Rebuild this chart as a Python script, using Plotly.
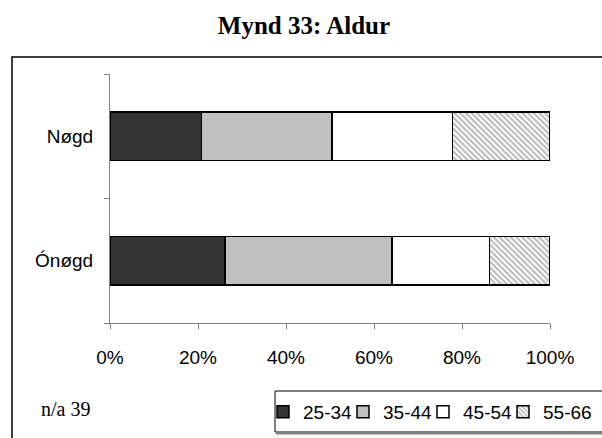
import plotly.graph_objects as go

categories = ["Ónøgd", "Nøgd"]
age_groups = ["25-34", "35-44", "45-54", "55-66"]
values_25_34 = [26.1, 20.8]
values_35_44 = [38.0, 29.6]
values_45_54 = [22.2, 27.4]
values_55_66 = [13.7, 22.2]
x_ticks = [0, 20, 40, 60, 80, 100]
x_tick_labels = ["0%", "20%", "40%", "60%", "80%", "100%"]
note_text = "n/a 39"
title_text = "Mynd 33: Aldur"

series = [values_25_34, values_35_44, values_45_54, values_55_66]
fills = ["#333333", "#C0C0C0", "#FFFFFF", "#FFFFFF"]

sans = "Liberation Sans, Arial, sans-serif"
serif = "Liberation Serif, Times New Roman, serif"

# plot area in pixels (for converting layout positions to paper coords)
L, R, T, B = 110, 52, 74, 115
W, H = 602, 438
PW, PH = W - L - R, H - T - B


def px_x(x):
    return (x - L) / PW


def px_y(y):
    return (H - B - y) / PH


legend_ids = ["legend", "legend2", "legend3", "legend4"]
legend_lefts = [263, 343, 423, 503]

fig = go.Figure()
for name, vals, col, lid in zip(age_groups, series, fills, legend_ids):
    marker = dict(color=col, line=dict(color="black", width=1.5))
    if name == "55-66":
        marker["pattern"] = dict(shape="\\", fgcolor="#707070", bgcolor="white",
                                 size=4, solidity=0.5)
    fig.add_trace(go.Bar(y=categories, x=vals, name=name, orientation="h",
                         marker=marker, legend=lid))

legend_layout = {}
for lid, lx in zip(legend_ids, legend_lefts):
    legend_layout[lid] = dict(
        orientation="h", x=px_x(lx), y=px_y(412), xanchor="left",
        yanchor="middle", borderwidth=0, bgcolor="rgba(0,0,0,0)",
        font=dict(family=sans, size=19, color="black"), itemclick=False,
        itemdoubleclick=False)

fig.update_layout(
    width=W, height=H,
    margin=dict(l=L, r=R, t=T, b=B, autoexpand=False),
    barmode="stack", bargap=0.61,
    paper_bgcolor="white", plot_bgcolor="white",
    title=dict(text="<b>" + title_text + "</b>", x=304 / W, y=1 - 25 / H,
               xanchor="center", yanchor="middle",
               font=dict(family=serif, size=25, color="black")),
    xaxis=dict(range=[0, 100], tickvals=x_ticks, ticktext=x_tick_labels,
               showgrid=False, zeroline=False, showline=True,
               linecolor="#808080", linewidth=1, ticks="outside",
               ticklen=5, tickcolor="#808080", automargin=False,
               tickfont=dict(family=sans, size=19, color="black"),
               ticklabelstandoff=12),
    yaxis=dict(categoryorder="array", categoryarray=categories,
               range=[-0.5, 1.5], showgrid=False, zeroline=False,
               showline=True, linecolor="#808080", linewidth=1,
               ticks="outside", tickson="boundaries", ticklen=5,
               tickcolor="#808080", automargin=False,
               tickfont=dict(family=sans, size=19, color="black"),
               ticklabelstandoff=12),
    showlegend=True,
    **legend_layout,
)

fig.add_annotation(text=note_text, xref="paper", yref="paper",
                   x=px_x(39), y=px_y(409),
                   xanchor="left", yanchor="middle", showarrow=False,
                   font=dict(family=serif, size=20, color="black"))

# outer chart frame
fig.add_shape(type="rect", xref="paper", yref="paper",
              x0=px_x(12), x1=px_x(650), y0=px_y(460), y1=px_y(57),
              line=dict(color="black", width=1.5), layer="below")
# legend box and its shadow
fig.add_shape(type="rect", xref="paper", yref="paper",
              x0=px_x(275), x1=px_x(650), y0=px_y(432), y1=px_y(391),
              line=dict(color="black", width=1), fillcolor="white",
              layer="below")
fig.add_shape(type="line", xref="paper", yref="paper",
              x0=px_x(276), x1=px_x(650), y0=px_y(433), y1=px_y(433),
              line=dict(color="#808080", width=3))

fig.write_html("out.html", config={"displayModeBar": False},
               post_script="document.body.style.margin='0';document.body.style.overflow='hidden';")
